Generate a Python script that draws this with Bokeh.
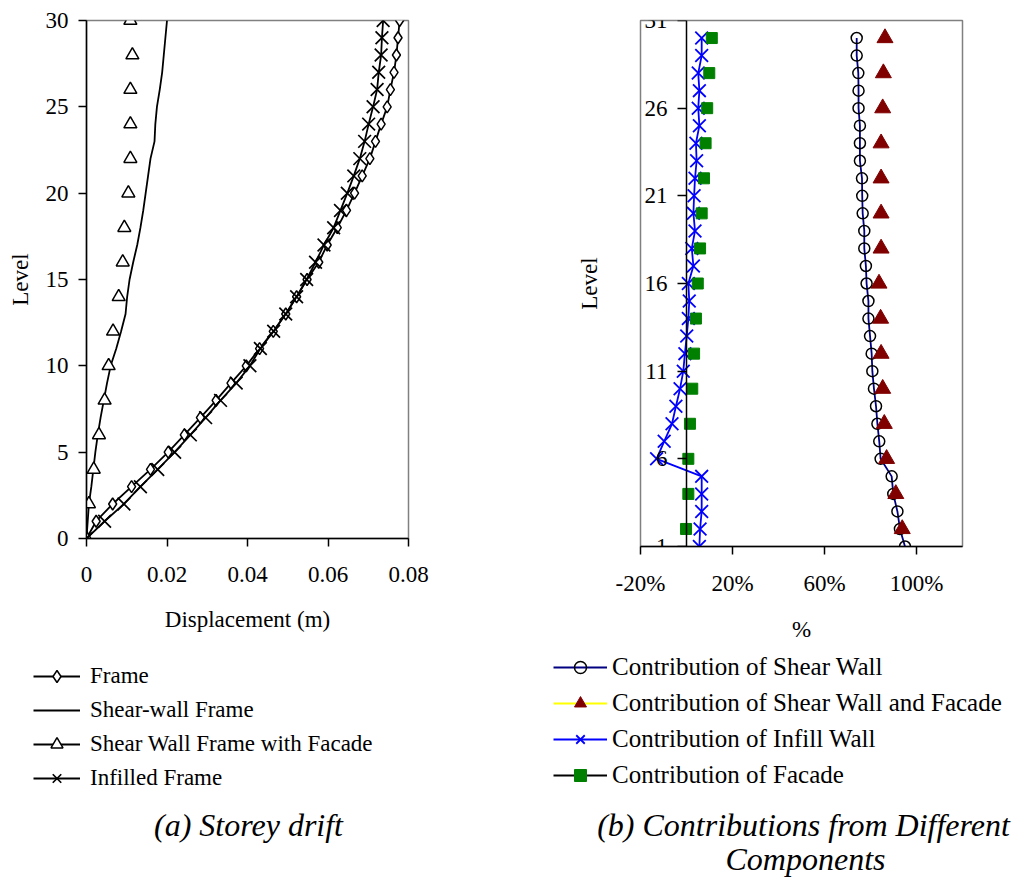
from bokeh.plotting import figure
from bokeh.models import (Legend, LegendItem, LinearAxis, FixedTicker, Range1d, Label)
from bokeh.layouts import row, column
from bokeh.embed import file_html
from bokeh.resources import INLINE

FONT = "Liberation Serif"
NAN = float("nan")

# ---------------- (a) Storey drift ----------------
levels_a = list(range(0, 31))
frame_disp = [0.0, 0.0024, 0.0065, 0.0112, 0.0159, 0.0203, 0.0243, 0.0283, 0.0322, 0.0359,
              0.0397, 0.0430, 0.0464, 0.0495, 0.0522, 0.0548, 0.0577, 0.0598, 0.0623, 0.0646,
              0.0666, 0.0685, 0.0704, 0.0718, 0.0732, 0.0747, 0.0755, 0.0764, 0.0770, 0.0774, 0.0778]
shearwall_disp = [0.0, 0.0003, 0.0006, 0.0012, 0.0017, 0.0022, 0.0028, 0.0035, 0.0043, 0.0051,
                  0.0060, 0.0074, 0.0086, 0.0097, 0.0101, 0.0107, 0.0116, 0.0126, 0.0134, 0.0141,
                  0.0147, 0.0153, 0.0159, 0.0169, 0.0171, 0.0175, 0.0182, 0.0188, 0.0192, 0.0196, 0.0200]
infilled_disp = [0.0, 0.0045, 0.0093, 0.0134, 0.0177, 0.0219, 0.0258, 0.0296, 0.0333, 0.0372,
                 0.0406, 0.0432, 0.0465, 0.0495, 0.0522, 0.0547, 0.0569, 0.0590, 0.0614, 0.0631,
                 0.0648, 0.0664, 0.0679, 0.0691, 0.0701, 0.0712, 0.0722, 0.0726, 0.0732, 0.0734, 0.0737]
facade_levels = [0, 2, 4, 6, 8, 10, 12, 14, 16, 18, 20, 22, 24, 26, 28, 30]
facade_disp = [0.0, 0.0006, 0.0018, 0.0031, 0.0045, 0.0055, 0.0066, 0.0080, 0.0090, 0.0094,
               0.0104, 0.0109, 0.0109, 0.0109, 0.0114, 0.0109]
xticks_a = [0, 0.02, 0.04, 0.06, 0.08]
xtick_labels_a = ["0", "0.02", "0.04", "0.06", "0.08"]
yticks_a = [0, 5, 10, 15, 20, 25, 30]
legend_a = ["Frame", "Shear-wall Frame", "Shear Wall Frame with Facade", "Infilled Frame"]
caption_a = "(a) Storey drift"

# ---------------- (b) Contributions ----------------
levels_b = list(range(1, 31))
shear_wall_pct = [95.0, 92.8, 91.7, 89.9, 89.2, 84.4, 83.8, 83.0, 82.4, 81.5,
                  80.8, 80.5, 79.8, 79.1, 79.1, 78.3, 78.0, 77.3, 77.3, 76.6,
                  76.4, 76.3, 75.4, 75.4, 75.4, 74.8, 74.8, 74.7, 74.0, 74.0]
infill_pct = [5.6, 5.9, 6.6, 6.6, 6.6, -13.0, -9.7, -6.3, -4.6, -2.8,
              -1.4, -0.7, 0.1, 0.8, 1.2, 0.8, 3.0, 2.3, 3.7, 3.0,
              3.3, 3.7, 4.4, 4.1, 5.6, 5.1, 5.6, 5.1, 6.6, 6.6]
even_levels_b = [2, 4, 6, 8, 10, 12, 14, 16, 18, 20, 22, 24, 26, 28, 30]
sw_facade_pct = [93.8, 91.0, 87.0, 86.0, 85.3, 84.6, 84.4, 83.7, 84.6, 84.6, 84.6, 84.6, 85.3, 85.6, 86.3]
facade_pct = [-0.2, 0.8, 0.8, 1.5, 2.5, 3.3, 4.1, 4.9, 5.9, 6.6, 7.6, 8.3, 9.0, 9.9, 11.0]
xticks_b = [-20, 20, 60, 100]
xtick_labels_b = ["-20%", "20%", "60%", "100%"]
yticks_b = [1, 6, 11, 16, 21, 26, 31]
legend_b = ["Contribution of Shear Wall", "Contribution of Shear Wall and Facade",
            "Contribution of Infill Wall", "Contribution of Facade"]
caption_b = ["(b) Contributions from Different", "Components"]


def style_axis(ax):
    ax.axis_line_color = "black"
    ax.axis_line_width = 1.5
    ax.major_tick_line_color = "black"
    ax.major_tick_line_width = 1.5
    ax.major_tick_in = 0
    ax.major_tick_out = 8
    ax.minor_tick_line_color = None
    ax.major_label_text_font = FONT
    ax.major_label_text_font_size = "23px"
    ax.major_label_text_color = "black"
    ax.axis_label_text_font = FONT
    ax.axis_label_text_font_size = "23px"
    ax.axis_label_text_font_style = "normal"
    ax.axis_label_text_color = "black"


def base_style(p):
    p.xgrid.visible = False
    p.ygrid.visible = False
    p.outline_line_color = "#808080"
    p.outline_line_width = 1.5
    p.background_fill_color = "white"
    p.border_fill_color = "white"


def blank_fig(w, h):
    q = figure(frame_width=w, frame_height=h, min_border=0,
               x_range=Range1d(0, w), y_range=Range1d(0, h),
               x_axis_type=None, y_axis_type=None,
               output_backend="svg", toolbar_location=None)
    q.xgrid.visible = False
    q.ygrid.visible = False
    q.outline_line_color = None
    q.background_fill_color = "white"
    q.border_fill_color = "white"
    return q


TOP_H = 650
BOT_H = 227
TOP_B = 20

# ================= Figure (a) =================
p1 = figure(frame_width=322, frame_height=518,
            min_border_left=86, min_border_right=92, min_border_top=TOP_B,
            min_border_bottom=TOP_H - TOP_B - 518,
            x_range=Range1d(0, 0.08), y_range=Range1d(0, 30),
            x_axis_label="Displacement (m)", y_axis_label="Level",
            output_backend="svg", toolbar_location=None)
base_style(p1)
for ax in p1.axis:
    style_axis(ax)
p1.xaxis.ticker = FixedTicker(ticks=xticks_a)
p1.xaxis.major_label_overrides = {t: s for t, s in zip(xticks_a, xtick_labels_a)}
p1.yaxis.ticker = FixedTicker(ticks=yticks_a)
p1.xaxis.major_label_standoff = 20
p1.xaxis.axis_label_standoff = 22
p1.yaxis.major_label_standoff = 10
p1.yaxis.axis_label_standoff = 10

p1.line(frame_disp, levels_a, line_color="black", line_width=1.8)
p1.scatter(frame_disp, levels_a, marker="diamond", size=12, line_color="black",
           fill_color="white", line_width=1.5)
p1.line(shearwall_disp, levels_a, line_color="black", line_width=1.8)
p1.scatter(facade_disp, facade_levels, marker="triangle", size=13, line_color="black",
           fill_color="white", line_width=1.5)
p1.line(infilled_disp, levels_a, line_color="black", line_width=1.8)
p1.scatter(infilled_disp, levels_a, marker="x", size=18, line_color="black", line_width=1.7)

# legend + caption panel for (a)
q1 = blank_fig(500, BOT_H)
k_l1 = q1.line([NAN], [NAN], line_color="black", line_width=1.8)
k_s1 = q1.scatter([NAN], [NAN], marker="diamond", line_color="black", fill_color="white", line_width=1.5)
k_l2 = q1.line([NAN], [NAN], line_color="black", line_width=1.8)
k_l3 = q1.line([NAN], [NAN], line_color="black", line_width=1.8)
k_s3 = q1.scatter([NAN], [NAN], marker="triangle", line_color="black", fill_color="white", line_width=1.5)
k_l4 = q1.line([NAN], [NAN], line_color="black", line_width=1.8)
k_s4 = q1.scatter([NAN], [NAN], marker="x", line_color="black", line_width=1.7)
leg1 = Legend(items=[
    LegendItem(label=legend_a[0], renderers=[k_l1, k_s1]),
    LegendItem(label=legend_a[1], renderers=[k_l2]),
    LegendItem(label=legend_a[2], renderers=[k_l3, k_s3]),
    LegendItem(label=legend_a[3], renderers=[k_l4, k_s4]),
], location=(33, 84), glyph_width=47, glyph_height=30, label_height=20,
    label_standoff=10, spacing=4, padding=0, margin=0,
    border_line_color=None, background_fill_alpha=0,
    label_text_font=FONT, label_text_font_size="23px", label_text_color="black")
q1.add_layout(leg1, "center")
q1.add_layout(Label(x=248, y=53, x_units="screen", y_units="screen", text=caption_a,
                    text_font=FONT, text_font_style="italic", text_font_size="32px",
                    text_align="center", text_baseline="middle", text_color="black"))

# ================= Figure (b) =================
p2 = figure(frame_width=322, frame_height=526,
            min_border_left=140, min_border_right=53, min_border_top=TOP_B,
            min_border_bottom=TOP_H - TOP_B - 526,
            x_range=Range1d(-20, 120), y_range=Range1d(1, 31),
            x_axis_label="%", y_axis_label="Level",
            output_backend="svg", toolbar_location=None)
base_style(p2)
for ax in p2.axis:
    style_axis(ax)
p2.xaxis.ticker = FixedTicker(ticks=xticks_b)
p2.xaxis.major_label_overrides = {t: s for t, s in zip(xticks_b, xtick_labels_b)}
p2.xaxis.major_label_standoff = 16
p2.xaxis.axis_label_standoff = 18
# outer y axis only carries the title
p2.yaxis.ticker = FixedTicker(ticks=[])
p2.yaxis.axis_line_color = None
p2.yaxis.major_tick_out = 0
p2.yaxis.major_label_standoff = 0
p2.yaxis.axis_label_standoff = 39

inner_y = LinearAxis(fixed_location=0, ticker=FixedTicker(ticks=yticks_b))
style_axis(inner_y)
inner_y.major_label_standoff = 10
inner_y.major_tick_out = 9
p2.add_layout(inner_y, "left")

p2.line(shear_wall_pct, levels_b, line_color="#000080", line_width=1.8)
p2.scatter(shear_wall_pct, levels_b, marker="circle", size=11, line_color="black",
           fill_color=None, line_width=1.5)
p2.scatter(sw_facade_pct, even_levels_b, marker="triangle", size=16, line_color="#800000",
           fill_color="#800000")
p2.line(infill_pct, levels_b, line_color="#0000FF", line_width=1.8)
p2.scatter(infill_pct, levels_b, marker="x", size=18, line_color="#0000FF", line_width=1.8)
p2.scatter(facade_pct, even_levels_b, marker="square", size=11, line_color="#008000",
           fill_color="#008000")

# legend + caption panel for (b)
q2 = blank_fig(515, BOT_H)
m_l1 = q2.line([NAN], [NAN], line_color="#000080", line_width=1.8)
m_s1 = q2.scatter([NAN], [NAN], marker="circle", line_color="black", fill_color=None, line_width=1.5)
m_l2 = q2.line([NAN], [NAN], line_color="#FFFF00", line_width=1.8)
m_s2 = q2.scatter([NAN], [NAN], marker="triangle", line_color="#800000", fill_color="#800000")
m_l3 = q2.line([NAN], [NAN], line_color="#0000FF", line_width=1.8)
m_s3 = q2.scatter([NAN], [NAN], marker="x", line_color="#0000FF", line_width=1.8)
m_l4 = q2.line([NAN], [NAN], line_color="black", line_width=1.8)
m_s4 = q2.scatter([NAN], [NAN], marker="square", line_color="#008000", fill_color="#008000")
leg2 = Legend(items=[
    LegendItem(label=legend_b[0], renderers=[m_l1, m_s1]),
    LegendItem(label=legend_b[1], renderers=[m_l2, m_s2]),
    LegendItem(label=legend_b[2], renderers=[m_l3, m_s3]),
    LegendItem(label=legend_b[3], renderers=[m_l4, m_s4]),
], location=(53, 87), glyph_width=54, glyph_height=30, label_height=20,
    label_standoff=5, spacing=6, padding=0, margin=0,
    border_line_color=None, background_fill_alpha=0,
    label_text_font=FONT, label_text_font_size="25px", label_text_color="black")
q2.add_layout(leg2, "center")
q2.add_layout(Label(x=303, y=53, x_units="screen", y_units="screen", text=caption_b[0],
                    text_font=FONT, text_font_style="italic", text_font_size="32px",
                    text_align="center", text_baseline="middle", text_color="black"))
q2.add_layout(Label(x=305, y=19, x_units="screen", y_units="screen", text=caption_b[1],
                    text_font=FONT, text_font_style="italic", text_font_size="32px",
                    text_align="center", text_baseline="middle", text_color="black"))

layout = column(row(p1, p2), row(q1, q2))
open("out.html", "w").write(file_html(layout, INLINE))
